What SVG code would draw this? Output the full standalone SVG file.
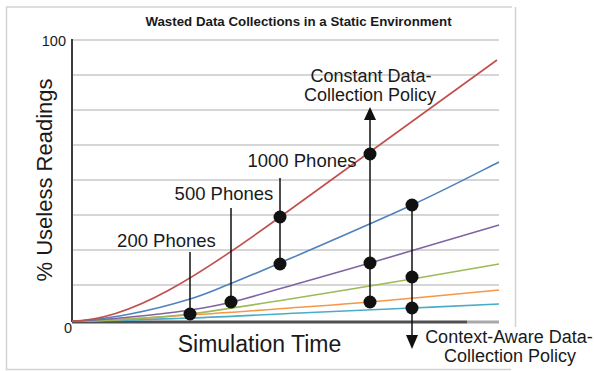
<svg xmlns="http://www.w3.org/2000/svg" width="594" height="371" viewBox="0 0 594 371">
<style>
text{font-family:"Liberation Sans",Arial,sans-serif;fill:#1a1a1a}
.grid{stroke:#c9c9c9;stroke-width:1.5;fill:none}
.curve{fill:none;stroke-width:1.6}
.ann{stroke:#111;stroke-width:1.5;fill:none}
.dot{fill:#111}
.lbl{font-size:18.5px;text-anchor:middle}
.pol{font-size:18px;text-anchor:middle}
</style>
<rect width="594" height="371" fill="#fff"/>
<path d="M6.5,326 V7 H512 M515.5,7 V327 M6.5,7 V369.5 H511" fill="none" stroke="#d2d2d2" stroke-width="1.5"/>
<text x="298.5" y="26" font-size="13.3" font-weight="bold" text-anchor="middle">Wasted Data Collections in a Static Environment</text>
<g id="grid">
<path class="grid" d="M72,40H499M72,75H499M72,110H499M72,145H499M72,180H499M72,215H499M72,250H499M72,285H499"/>
</g>
<g id="axes">
<line x1="72" y1="39" x2="72" y2="322" stroke="#3c3c3c" stroke-width="2"/>
<line x1="72" y1="322" x2="467" y2="322" stroke="#505050" stroke-width="3"/>
<line x1="467" y1="322" x2="499" y2="322" stroke="#a8a8a8" stroke-width="3"/>
<text x="66" y="46" font-size="14.5" text-anchor="end">100</text>
<text x="72" y="333" font-size="14.5" text-anchor="end">0</text>
<text transform="translate(52,180) rotate(-90)" font-size="22" text-anchor="middle">% Useless Readings</text>
<text x="259.5" y="352" font-size="23" text-anchor="middle">Simulation Time</text>
</g>
<g id="curves">
<path class="curve" stroke="#4bacc6" d="M72,321 C111.3,321 152,319.3 190,318 C228,316.7 262.7,314.7 300,313 C337.3,311.3 378.8,309.5 412,308 C445.2,306.5 484.5,304.7 499,304"/>
<path class="curve" stroke="#f79646" d="M72,321 C111.3,321 153.7,317.2 190,315 C226.3,312.8 260,310.2 290,308 C320,305.8 335.2,305 370,302 C404.8,299 477.5,292 499,290"/>
<path class="curve" stroke="#9bbb59" d="M72,321 C91.3,321 110.3,320.2 130,319 C149.7,317.8 163.3,317.3 190,314 C216.7,310.7 253,304.8 290,299 C327,293.2 377.2,284.8 412,279 C446.8,273.2 484.5,266.5 499,264"/>
<path class="curve" stroke="#8064a2" d="M72,321 C91.3,321 110.3,318.8 130,317 C149.7,315.2 173,312.5 190,310 C207,307.5 213.7,306.5 232,302 C250.3,297.5 277,289.5 300,283 C323,276.5 336.8,272.7 370,263 C403.2,253.3 477.5,231.3 499,225"/>
<path class="curve" stroke="#4f81bd" d="M72,321 C91.3,321 110.3,317.7 130,314 C149.7,310.3 173,304.2 190,299 C207,293.8 217,289 232,283 C247,277 250,276 280,263 C310,250 375.5,221.8 412,205 C448.5,188.2 484.5,169.2 499,162"/>
<path class="curve" stroke="#c0504d" d="M72,321 C130,321 200,275 280,217 L497,60"/>
</g>
<g id="connectors">
<line class="ann" x1="190" y1="252" x2="190" y2="314"/>
<line class="ann" x1="231" y1="208" x2="231" y2="302"/>
<line class="ann" x1="280" y1="178" x2="280" y2="264"/>
<line class="ann" x1="370" y1="119" x2="370" y2="302"/>
<line class="ann" x1="412" y1="205" x2="412" y2="336"/>
<polygon class="dot" points="370,107 364,120 376,120"/>
<polygon class="dot" points="406,335 418,335 412,349"/>
</g>
<g id="phones200">
<text class="lbl" x="166.5" y="247">200 Phones</text>
<circle class="dot" cx="190" cy="314" r="6.5"/>
</g>
<g id="phones500">
<text class="lbl" x="224" y="200">500 Phones</text>
<circle class="dot" cx="231" cy="302" r="6.5"/>
</g>
<g id="phones1000">
<text class="lbl" x="302" y="167">1000 Phones</text>
<circle class="dot" cx="280" cy="217" r="6.5"/>
<circle class="dot" cx="280" cy="264" r="6.5"/>
</g>
<g id="constant">
<text class="pol" x="371" y="82">Constant Data-</text>
<text class="pol" x="370" y="101">Collection Policy</text>
<circle class="dot" cx="370" cy="154" r="6.5"/>
<circle class="dot" cx="370" cy="263" r="6.5"/>
<circle class="dot" cx="370" cy="302" r="6.5"/>
</g>
<g id="context">
<text class="pol" x="509" y="343">Context-Aware Data-</text>
<text class="pol" x="510" y="362">Collection Policy</text>
<circle class="dot" cx="412" cy="205" r="6.5"/>
<circle class="dot" cx="412" cy="277" r="6.5"/>
<circle class="dot" cx="412" cy="308" r="6.5"/>
</g>
</svg>
